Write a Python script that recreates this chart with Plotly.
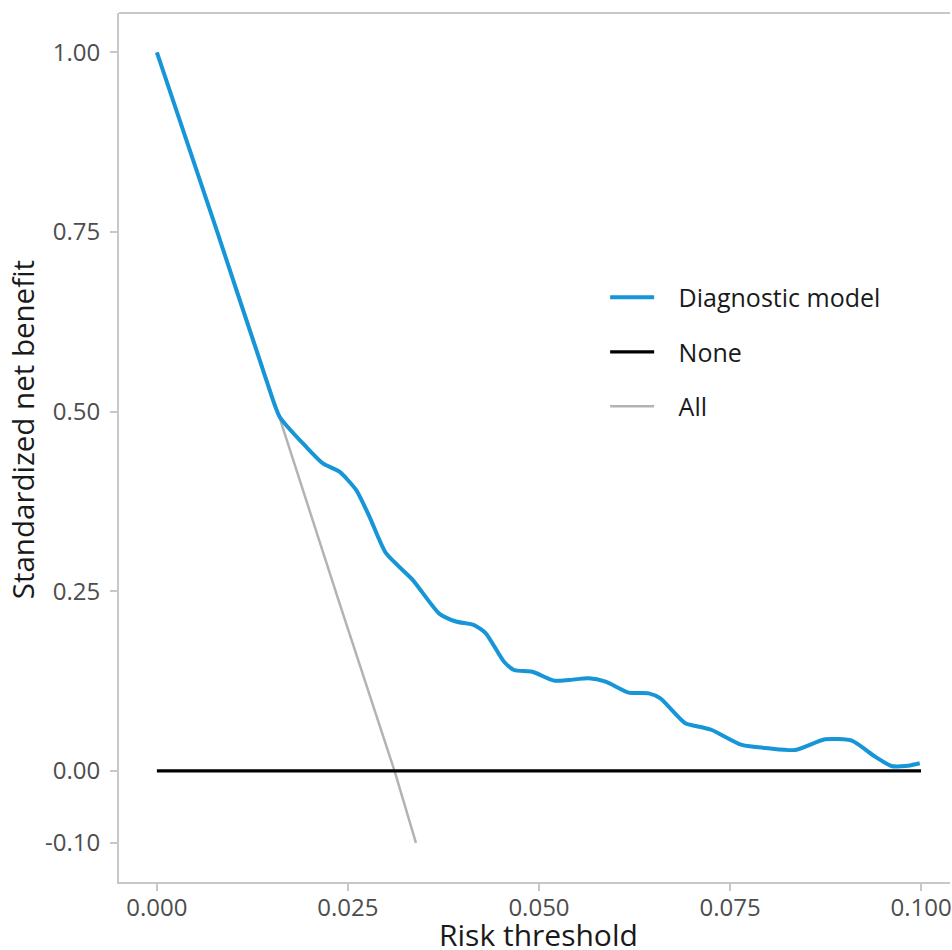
import plotly.graph_objects as go

# Diagnostic model (standardized net benefit)
model_x = [0.0, 0.0079, 0.01432, 0.01606, 0.01954, 0.02172, 0.02389, 0.02607, 0.02781,
           0.02998, 0.03347, 0.03695, 0.03912, 0.04151, 0.04304, 0.04543, 0.04674,
           0.04913, 0.05196, 0.05392, 0.05653, 0.05871, 0.06175, 0.06436, 0.06589,
           0.06915, 0.07132, 0.07263, 0.07655, 0.08007, 0.08355, 0.08746, 0.09094,
           0.09399, 0.09612, 0.09830, 0.09983]
model_y = [1.0, 0.75, 0.544, 0.493, 0.451, 0.428, 0.4165, 0.391, 0.354,
           0.303, 0.266, 0.219, 0.208, 0.203, 0.1916, 0.152, 0.1405,
           0.138, 0.1257, 0.1266, 0.129, 0.1243, 0.109, 0.108, 0.101,
           0.0664, 0.0608, 0.057, 0.0362, 0.0316, 0.0292, 0.0441, 0.0422,
           0.0199, 0.0070, 0.0074, 0.0107]

none_x = [0.0, 0.1]
none_y = [0.0, 0.0]

all_x = [0.0, 0.0079, 0.0161, 0.0240, 0.0311, 0.0339]
all_y = [1.0, 0.75, 0.49, 0.23, 0.0, -0.10]

x_ticks = [0.000, 0.025, 0.050, 0.075, 0.100]
x_tick_text = ["0.000", "0.025", "0.050", "0.075", "0.100"]
y_ticks = [-0.10, 0.00, 0.25, 0.50, 0.75, 1.00]
y_tick_text = ["-0.10", "0.00", "0.25", "0.50", "0.75", "1.00"]

FONT = "Open Sans"
TICK_COLOR = "#4d4d4d"
FRAME = "#c8c8c8"
PAD = "\u00a0\u00a0\u00a0"  # gap between legend key and label

fig = go.Figure()
# drawn first so the model line lies on top of it
fig.add_trace(go.Scatter(x=all_x, y=all_y, mode="lines", name=PAD + "All",
                         legendgroup="c", legendrank=3,
                         line=dict(color="#b3b3b3", width=2.5)))
fig.add_trace(go.Scatter(x=none_x, y=none_y, mode="lines", name=PAD + "None",
                         legendgroup="b", legendrank=2,
                         line=dict(color="#000000", width=3.2)))
fig.add_trace(go.Scatter(x=model_x, y=model_y, mode="lines", name=PAD + "Diagnostic model",
                         legendgroup="a", legendrank=1,
                         line=dict(color="#1696d6", width=4, shape="spline", smoothing=0.6)))

fig.update_layout(
    width=952, height=950,
    margin=dict(l=119, r=0, t=13, b=68),
    plot_bgcolor="white", paper_bgcolor="white",
    font=dict(family=FONT, color=TICK_COLOR),
    showlegend=True,
    legend=dict(x=0.585, y=0.699, xanchor="left", yanchor="top",
                font=dict(family=FONT, size=25, color="#1a1a1a"),
                traceorder="grouped", tracegroupgap=19, itemwidth=44,
                bgcolor="rgba(0,0,0,0)"),
    xaxis=dict(range=[-0.00496, 0.10379], tickvals=x_ticks, ticktext=x_tick_text,
               showgrid=False, zeroline=False, showline=True, linecolor=FRAME, linewidth=2,
               ticks="outside", ticklen=7, tickwidth=1.5, tickcolor=FRAME,
               ticklabeloverflow="allow", ticklabelstandoff=-4,
               tickfont=dict(family=FONT, size=24, color=TICK_COLOR)),
    yaxis=dict(range=[-0.1545, 1.0547], tickvals=y_ticks, ticktext=y_tick_text,
               showgrid=False, zeroline=False, showline=True, linecolor=FRAME, linewidth=2,
               ticks="outside", ticklen=7, tickwidth=1.5, tickcolor=FRAME,
               ticklabelstandoff=5,
               tickfont=dict(family=FONT, size=24, color=TICK_COLOR)),
    shapes=[dict(type="line", xref="paper", yref="paper", x0=0, x1=1, y0=1, y1=1,
                 line=dict(color=FRAME, width=2))],
    annotations=[
        dict(text="Risk threshold", xref="x", yref="paper", x=0.05, y=0, yshift=-30,
             xanchor="center", yanchor="top", showarrow=False,
             font=dict(family=FONT, size=30, color="#1a1a1a")),
        dict(text="Standardized net benefit", xref="paper", yref="paper", x=-0.1166, y=0.52,
             xanchor="center", yanchor="middle", textangle=-90, showarrow=False,
             font=dict(family=FONT, size=29.5, color="#1a1a1a")),
    ],
)

fig.write_html("out.html", config={"displayModeBar": False},
               post_script="document.body.style.margin='0';document.body.style.overflow='hidden';")
